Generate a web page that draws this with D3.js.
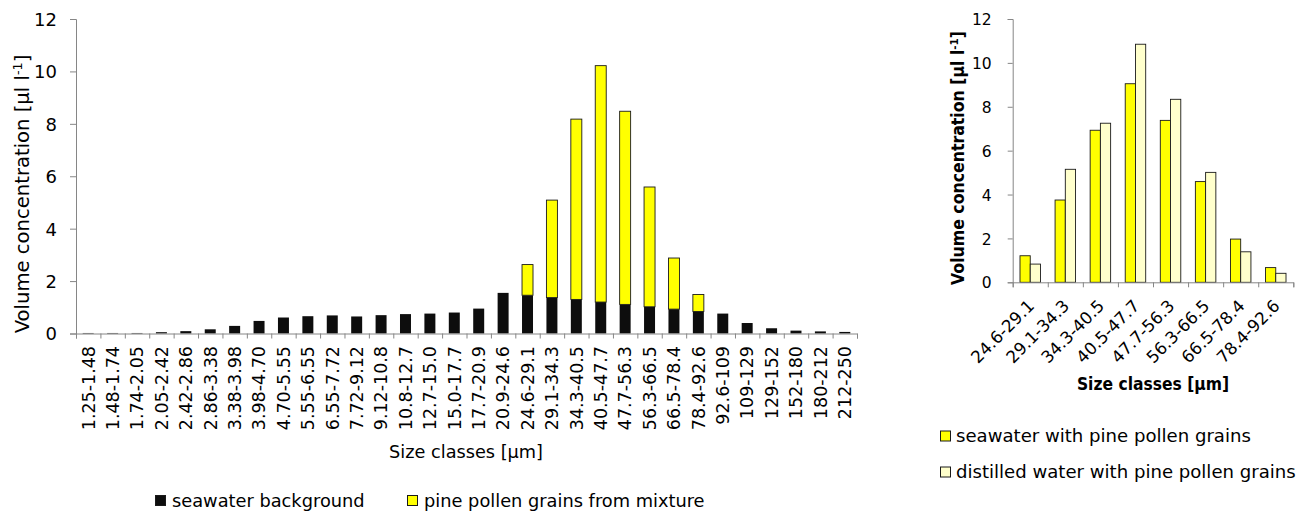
<!DOCTYPE html>
<html>
<head>
<meta charset="utf-8">
<script src="https://cdn.jsdelivr.net/npm/d3@7"></script>
<style>
  body { margin: 0; background: #fff; }
  svg { display: block; }
  text { font-family: "DejaVu Sans", Verdana, sans-serif; fill: #000; }
  .cond { font-family: "DejaVu Sans Condensed", "DejaVu Sans", sans-serif; font-stretch: condensed; }
</style>
</head>
<body>
<svg id="chart" width="1304" height="513"></svg>
<script>
// Particle size classes [µm] of the full distribution
const sizeClasses = [
  "1.25-1.48", "1.48-1.74", "1.74-2.05", "2.05-2.42", "2.42-2.86", "2.86-3.38",
  "3.38-3.98", "3.98-4.70", "4.70-5.55", "5.55-6.55", "6.55-7.72", "7.72-9.12",
  "9.12-10.8", "10.8-12.7", "12.7-15.0", "15.0-17.7", "17.7-20.9", "20.9-24.6",
  "24.6-29.1", "29.1-34.3", "34.3-40.5", "40.5-47.7", "47.7-56.3", "56.3-66.5",
  "66.5-78.4", "78.4-92.6", "92.6-109", "109-129", "129-152", "152-180",
  "180-212", "212-250"
];
// Volume concentration [µl l-1] of the seawater background, per class
const seawaterBackground = [
  0.02, 0.02, 0.02, 0.05, 0.09, 0.16, 0.29, 0.48, 0.61, 0.66, 0.69, 0.65,
  0.70, 0.74, 0.76, 0.80, 0.95, 1.55, 1.46, 1.37, 1.30, 1.20, 1.11, 1.02,
  0.93, 0.84, 0.76, 0.40, 0.20, 0.11, 0.08, 0.06
];
// Pine pollen classes (subset of the size classes above)
const pollenClasses = [
  "24.6-29.1", "29.1-34.3", "34.3-40.5", "40.5-47.7",
  "47.7-56.3", "56.3-66.5", "66.5-78.4", "78.4-92.6"
];
// Pine pollen grains from the mixture, stacked on top of the background
const pollenFromMixture = [1.17, 3.72, 6.88, 9.02, 7.37, 4.57, 1.95, 0.65];
// Right panel: pollen suspended in seawater vs distilled water
const seawaterWithPollen = [1.21, 3.75, 6.93, 9.05, 7.38, 4.59, 1.97, 0.67];
const distilledWithPollen = [0.83, 5.15, 7.25, 10.85, 8.34, 5.01, 1.39, 0.41];
const yTicks = [0, 2, 4, 6, 8, 10, 12];

const AXIS = "#868686";
const svg = d3.select("#chart");

function styleAxis(g) {
  g.selectAll(".domain").attr("stroke", AXIS).attr("stroke-width", 1);
  g.selectAll(".tick line").attr("stroke", AXIS).attr("stroke-width", 1);
  g.selectAll(".tick text").attr("fill", "#000");
}

function yTitle(g, x, y, cls, size, weight) {
  const t = g.append("text")
    .attr("class", cls)
    .attr("transform", `translate(${x},${y}) rotate(-90)`)
    .attr("text-anchor", "middle")
    .attr("font-size", size)
    .attr("font-weight", weight);
  t.append("tspan").text("Volume concentration [µl l");
  t.append("tspan").attr("font-size", "0.65em").attr("dy", "-0.55em").text("-1");
  t.append("tspan").attr("dy", "0.36em").text("]");
}

// ---------- Left panel: stacked size distribution ----------
{
  const x = d3.scaleBand().domain(sizeClasses).range([76, 857])
    .paddingInner(0.55).paddingOuter(0.275);
  const y = d3.scaleLinear().domain([0, 12]).range([333.5, 19]);

  const rows = sizeClasses.map((c, i) => {
    const j = pollenClasses.indexOf(c);
    return { cls: c, background: seawaterBackground[i], pollen: j >= 0 ? pollenFromMixture[j] : 0 };
  });
  const stack = d3.stack().keys(["background", "pollen"])(rows);
  const fills = { background: "#0d0d0d", pollen: "#ffff00" };

  const g = svg.append("g");

  // y axis
  const ya = g.append("g").attr("transform", "translate(76,0)")
    .call(d3.axisLeft(y).tickValues(yTicks).tickSize(6).tickPadding(13).tickFormat(d3.format("d")));
  ya.selectAll(".tick text").attr("font-size", 18).attr("dy", "0.36em");
  styleAxis(ya);

  // bars
  stack.forEach(layer => {
    g.append("g").selectAll("rect")
      .data(layer.filter(d => d[1] - d[0] > 0))
      .join("rect")
      .attr("x", d => x(d.data.cls))
      .attr("width", x.bandwidth())
      .attr("y", d => y(d[1]))
      .attr("height", d => y(d[0]) - y(d[1]))
      .attr("fill", fills[layer.key])
      .attr("stroke", layer.key === "pollen" ? "#1a1a1a" : "none")
      .attr("stroke-width", 0.9);
  });

  // x axis: ticks on class boundaries
  const bounds = sizeClasses.map(c => x(c) - x.step() * x.paddingInner() / 2);
  bounds.push(x.range()[1]);
  const xb = d3.scaleLinear().domain([0, sizeClasses.length]).range([bounds[0], bounds[bounds.length - 1]]);
  const xa = g.append("g").attr("transform", "translate(0,333.5)")
    .call(d3.axisBottom(xb).tickValues(d3.range(0, sizeClasses.length + 1)).tickSize(5).tickFormat(""));
  styleAxis(xa);

  // class labels, vertical
  g.append("g").selectAll("text")
    .data(sizeClasses)
    .join("text")
    .attr("transform", d => `translate(${x(d) + x.bandwidth() / 2},346) rotate(-90)`)
    .attr("text-anchor", "end")
    .attr("dy", "0.36em")
    .attr("font-size", 17.5)
    .text(d => d);

  g.append("text")
    .attr("x", 466).attr("y", 458)
    .attr("text-anchor", "middle")
    .attr("font-size", 17.7)
    .text("Size classes [µm]");

  yTitle(g, 28.5, 194, "", 19.6, "normal");

  // legend
  const legend = [
    { label: "seawater background", fill: "#0d0d0d", x: 155 },
    { label: "pine pollen grains from mixture", fill: "#ffff00", x: 407 }
  ];
  const lg = g.append("g").selectAll("g").data(legend).join("g")
    .attr("transform", d => `translate(${d.x},495)`);
  lg.append("rect").attr("x", 0.5).attr("y", 0.5).attr("width", 10).attr("height", 10)
    .attr("fill", d => d.fill).attr("stroke", "#1a1a1a").attr("stroke-width", 1);
  lg.append("text").attr("x", 17).attr("y", 12).attr("font-size", 17.8).text(d => d.label);
}

// ---------- Right panel: grouped comparison ----------
{
  const x = d3.scaleBand().domain(pollenClasses).range([1012.7, 1293.3])
    .paddingInner(0.416).paddingOuter(0.208);
  const series = ["seawater", "distilled"];
  const xs = d3.scaleBand().domain(series).range([0, x.bandwidth()]);
  const y = d3.scaleLinear().domain([0, 12]).range([282.3, 19]);
  const fills = { seawater: "#ffff00", distilled: "#ffffcc" };
  const rows = pollenClasses.map((c, i) => ({ cls: c, seawater: seawaterWithPollen[i], distilled: distilledWithPollen[i] }));

  const g = svg.append("g");

  const ya = g.append("g").attr("transform", "translate(1012.7,0)")
    .call(d3.axisLeft(y).tickValues(yTicks).tickSize(5).tickPadding(16).tickFormat(d3.format("d")));
  ya.selectAll(".tick text").attr("font-size", 15.5).attr("dy", "0.36em");
  styleAxis(ya);

  const bounds = pollenClasses.map(c => x(c) - x.step() * x.paddingInner() / 2);
  bounds.push(x.range()[1]);
  const xb = d3.scaleLinear().domain([0, pollenClasses.length]).range([bounds[0], bounds[bounds.length - 1]]);

  g.append("g").selectAll("g")
    .data(rows).join("g")
    .attr("transform", d => `translate(${x(d.cls)},0)`)
    .selectAll("rect")
    .data(d => series.map(k => ({ key: k, value: d[k] })))
    .join("rect")
    .attr("x", d => xs(d.key))
    .attr("width", xs.bandwidth())
    .attr("y", d => y(d.value))
    .attr("height", d => y(0) - y(d.value))
    .attr("fill", d => fills[d.key])
    .attr("stroke", "#1a1a1a")
    .attr("stroke-width", 0.9);

  const xa = g.append("g").attr("transform", "translate(0,282.3)")
    .call(d3.axisBottom(xb).tickValues(d3.range(0, pollenClasses.length + 1)).tickSize(5).tickFormat(""));
  styleAxis(xa);

  g.append("g").selectAll("text")
    .data(pollenClasses).join("text")
    .attr("transform", d => `translate(${x(d) + x.bandwidth() / 2 + 5},307) rotate(-45)`)
    .attr("text-anchor", "end")
    .attr("font-size", 16.8)
    .text(d => d);

  g.append("text")
    .attr("class", "cond")
    .attr("x", 1153).attr("y", 390)
    .attr("text-anchor", "middle")
    .attr("font-size", 17.3).attr("font-weight", "bold")
    .text("Size classes [µm]");

  yTitle(g, 964, 158, "cond", 17.5, "bold");

  const legend = [
    { label: "seawater with pine pollen grains", fill: "#ffff00", y: 430.5 },
    { label: "distilled water with pine pollen grains", fill: "#ffffcc", y: 466.5 }
  ];
  const lg = g.append("g").selectAll("g").data(legend).join("g")
    .attr("transform", d => `translate(940,${d.y})`);
  lg.append("rect").attr("x", 0.5).attr("y", 0.5).attr("width", 10).attr("height", 10)
    .attr("fill", d => d.fill).attr("stroke", "#1a1a1a").attr("stroke-width", 1);
  lg.append("text").attr("x", 16).attr("y", 11.5).attr("font-size", 18.1).text(d => d.label);
}
</script>
</body>
</html>
